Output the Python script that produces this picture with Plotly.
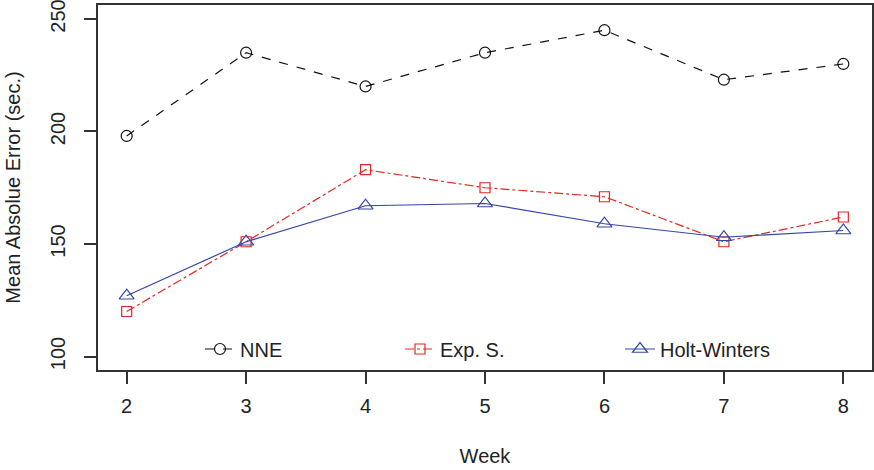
import plotly.graph_objects as go

weeks = [2, 3, 4, 5, 6, 7, 8]
nne = [198, 235, 220, 235, 245, 223, 230]
exp_s = [120, 151, 183, 175, 171, 151, 162]
holt_winters = [127, 151, 167, 168, 159, 153, 156]

x_ticks = [2, 3, 4, 5, 6, 7, 8]
y_ticks = [100, 150, 200, 250]

fig = go.Figure()
fig.add_trace(go.Scatter(x=weeks, y=nne, name="NNE", mode="lines+markers", legend="legend",
                         line=dict(color="#111111", width=1.2, dash="dash"),
                         marker=dict(symbol="circle-open", size=11, color="#111111", line=dict(width=1.2))))
fig.add_trace(go.Scatter(x=weeks, y=exp_s, name="Exp. S.", mode="lines+markers", legend="legend2",
                         line=dict(color="#e3281f", width=1.2, dash="dashdot"),
                         marker=dict(symbol="square-open", size=10, color="#e3281f", line=dict(width=1.2))))
fig.add_trace(go.Scatter(x=weeks, y=holt_winters, name="Holt-Winters", mode="lines+markers", legend="legend3",
                         line=dict(color="#3447a8", width=1.2),
                         marker=dict(symbol="triangle-up-open", size=13, color="#3447a8", line=dict(width=1.2))))

font = "Liberation Sans, Arial, sans-serif"


def px_x(p):
    return (p - 98) / 774.0


leg_common = dict(xanchor="left", yanchor="middle", y=0.0575, bgcolor="rgba(0,0,0,0)",
                  font=dict(size=20, family=font, color="#222222"))

fig.update_layout(
    width=874, height=470,
    showlegend=True,
    margin=dict(l=98, r=2, t=5, b=100),
    paper_bgcolor="white", plot_bgcolor="white",
    font=dict(family=font, size=20, color="#222222"),
    legend=dict(x=px_x(240 - 40), **leg_common),
    legend2=dict(x=px_x(440 - 40), **leg_common),
    legend3=dict(x=px_x(660 - 40), **leg_common),
    xaxis=dict(range=[1.76, 8.24], tickvals=x_ticks, ticks="outside", ticklen=12, tickwidth=1.5,
               tickcolor="#333333", showline=True, linecolor="#333333", linewidth=1.5, mirror=True,
               showgrid=False, zeroline=False, tickfont=dict(size=20), ticklabelstandoff=5,
               ticklabeloverflow="allow", automargin=False,
               title=dict(text="Week", font=dict(size=20), standoff=33)),
    yaxis=dict(range=[94, 256.2], tickvals=y_ticks, ticks="outside", ticklen=12, tickwidth=1.5,
               tickcolor="#333333", showline=True, linecolor="#333333", linewidth=1.5, mirror=True,
               showgrid=False, zeroline=False, tickangle=-90, tickfont=dict(size=20), ticklabelstandoff=11,
               ticklabeloverflow="allow", automargin=False,
               title=dict(text="Mean Absolue Error (sec.)", font=dict(size=20), standoff=21)),
)
fig.write_html("out.html")
